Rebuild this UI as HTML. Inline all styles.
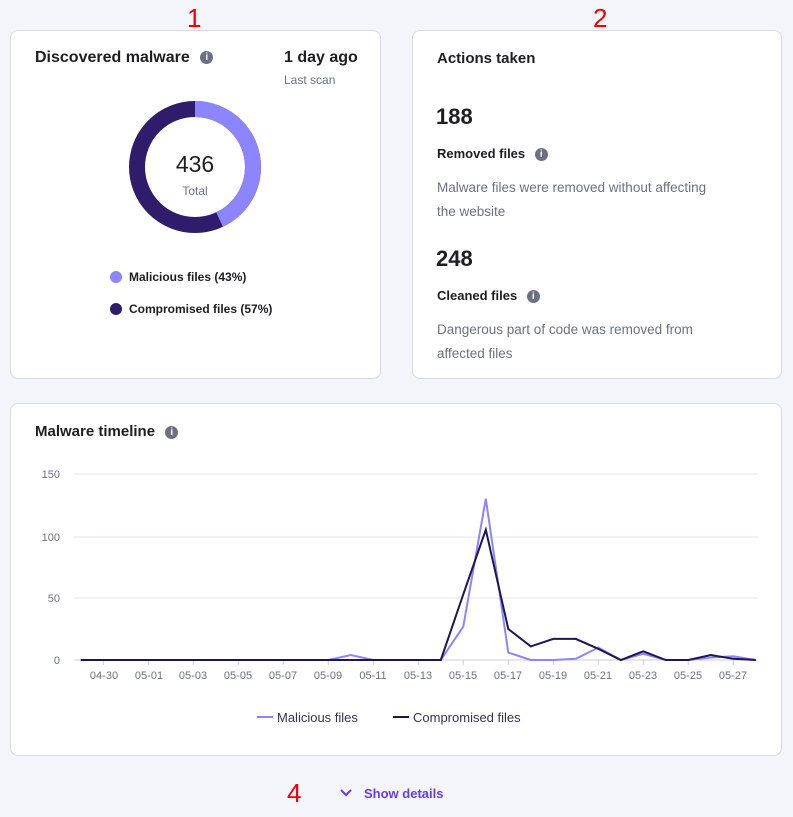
<!DOCTYPE html>
<html><head><meta charset="utf-8"><style>
body{margin:0;width:793px;height:817px;background:#f4f4fb;font-family:"Liberation Sans",sans-serif;position:relative;overflow:hidden;color:#1d1e20}
.card{position:absolute;background:#fff;border:1px solid #d8dae0;border-radius:8px}
.a{position:absolute;white-space:nowrap}
.b{font-weight:bold}
.i{display:inline-block;width:13px;height:13px;border-radius:50%;background:#6d7081;color:#fff;font-size:10px;text-align:center;line-height:13px;font-weight:bold;vertical-align:middle}
.red{color:#e00;font-size:26px;position:absolute}
.g{color:#6d7081}
</style></head><body>
<div class="red" style="left:187px;top:3px">1</div>
<div class="red" style="left:593px;top:3px">2</div>
<div class="red" style="left:388px;top:416px">3</div>
<div class="red" style="left:287px;top:778px">4</div>

<div class="card" style="left:10px;top:30px;width:369px;height:347px"></div>
<div class="a b" style="left:35px;top:49px;font-size:16px">Discovered malware <span class="i" style="margin-left:6px">i</span></div>
<div class="a b" style="left:284px;top:49px;font-size:16px">1 day ago</div>
<div class="a g" style="left:284px;top:73px;font-size:12px">Last scan</div>
<svg class="a" style="left:0;top:0" width="400" height="340">
<circle cx="195" cy="167" r="58" fill="none" stroke="#2f1c6a" stroke-width="16"/>
<circle cx="195" cy="167" r="58" fill="none" stroke="#8c85ff" stroke-width="16" stroke-dasharray="156.7 400" transform="rotate(-90 195 167)"/>
<text x="195" y="172" text-anchor="middle" font-size="23" fill="#1d1e20" font-family="Liberation Sans">436</text>
<text x="195" y="195" text-anchor="middle" font-size="12" fill="#6d7081" font-family="Liberation Sans">Total</text>
<circle cx="116" cy="277" r="6" fill="#8c85ff"/>
<circle cx="116" cy="309" r="6" fill="#2f1c6a"/>
</svg>
<div class="a b" style="left:129px;top:270px;font-size:12px">Malicious files (43%)</div>
<div class="a b" style="left:129px;top:302px;font-size:12px">Compromised files (57%)</div>

<div class="card" style="left:412px;top:30px;width:368px;height:347px"></div>
<div class="a b" style="left:437px;top:50px;font-size:15px">Actions taken</div>
<div class="a b" style="left:436px;top:104px;font-size:22px">188</div>
<div class="a b" style="left:437px;top:146px;font-size:13px">Removed files <span class="i" style="margin-left:6px">i</span></div>
<div class="a g" style="left:437px;top:176px;font-size:13.5px;line-height:24px">Malware files were removed without affecting<br>the website</div>
<div class="a b" style="left:436px;top:246px;font-size:22px">248</div>
<div class="a b" style="left:437px;top:288px;font-size:13px">Cleaned files <span class="i" style="margin-left:6px">i</span></div>
<div class="a g" style="left:437px;top:318px;font-size:13.5px;line-height:24px">Dangerous part of code was removed from<br>affected files</div>

<div class="card" style="left:10px;top:403px;width:770px;height:351px"></div>
<div class="a b" style="left:35px;top:423px;font-size:15px">Malware timeline <span class="i" style="margin-left:6px">i</span></div>
<svg class="a" style="left:0;top:0" width="793" height="817" font-family="Liberation Sans" font-size="11" fill="#6d7081">
<g stroke="#e6e6ec" stroke-width="1">
<line x1="74" y1="474" x2="758" y2="474"/><line x1="74" y1="537" x2="758" y2="537"/><line x1="74" y1="598" x2="758" y2="598"/></g>
<line x1="74" y1="660" x2="758" y2="660" stroke="#ccd" />
<g text-anchor="end"><text x="60" y="478">150</text><text x="60" y="541">100</text><text x="60" y="602">50</text><text x="60" y="664">0</text></g>
<g stroke="#ccd">
<line x1="103.3" y1="660" x2="103.3" y2="665"/><line x1="148.3" y1="660" x2="148.3" y2="665"/><line x1="193.3" y1="660" x2="193.3" y2="665"/><line x1="238.3" y1="660" x2="238.3" y2="665"/><line x1="283.3" y1="660" x2="283.3" y2="665"/><line x1="328.3" y1="660" x2="328.3" y2="665"/><line x1="373.3" y1="660" x2="373.3" y2="665"/><line x1="418.3" y1="660" x2="418.3" y2="665"/><line x1="463.3" y1="660" x2="463.3" y2="665"/><line x1="508.3" y1="660" x2="508.3" y2="665"/><line x1="553.3" y1="660" x2="553.3" y2="665"/><line x1="598.3" y1="660" x2="598.3" y2="665"/><line x1="643.3" y1="660" x2="643.3" y2="665"/><line x1="688.3" y1="660" x2="688.3" y2="665"/><line x1="733.3" y1="660" x2="733.3" y2="665"/></g>
<g text-anchor="middle">
<text x="104" y="679">04-30</text><text x="149" y="679">05-01</text><text x="193" y="679">05-03</text><text x="238" y="679">05-05</text><text x="283" y="679">05-07</text><text x="328" y="679">05-09</text><text x="373" y="679">05-11</text><text x="418" y="679">05-13</text><text x="463" y="679">05-15</text><text x="508" y="679">05-17</text><text x="553" y="679">05-19</text><text x="598" y="679">05-21</text><text x="643" y="679">05-23</text><text x="688" y="679">05-25</text><text x="733" y="679">05-27</text></g>
<polyline fill="none" stroke="#8c85ff" stroke-width="2" points="80.8,660 328.3,660 350.8,655 373.3,660 440.8,660 463.3,626.5 485.8,498.8 508.3,652.6 530.8,660 553.3,660 575.8,658.8 598.3,647.6 620.8,660 643.3,653.8 665.8,660 688.3,660 710.8,657.5 733.3,656.3 755.8,660"/>
<polyline fill="none" stroke="#1f1650" stroke-width="2" points="80.8,660 440.8,660 463.3,594.3 485.8,529.8 508.3,629 530.8,646.4 553.3,638.9 575.8,638.9 598.3,648.8 620.8,660 643.3,651.3 665.8,660 688.3,660 710.8,655 733.3,658.8 755.8,660"/>
<line x1="257" y1="717" x2="273" y2="717" stroke="#8c85ff" stroke-width="2"/>
<line x1="393" y1="717" x2="409" y2="717" stroke="#1f1650" stroke-width="2"/>
<text x="277" y="722" font-size="13" fill="#36344d">Malicious files</text>
<text x="413" y="722" font-size="13" fill="#36344d">Compromised files</text>
<polyline points="341,790 346,795 351,790" fill="none" stroke="#673de6" stroke-width="2"/>
</svg>
<div class="a b" style="left:364px;top:786px;font-size:13px;color:#673de6">Show details</div>
</body></html>
